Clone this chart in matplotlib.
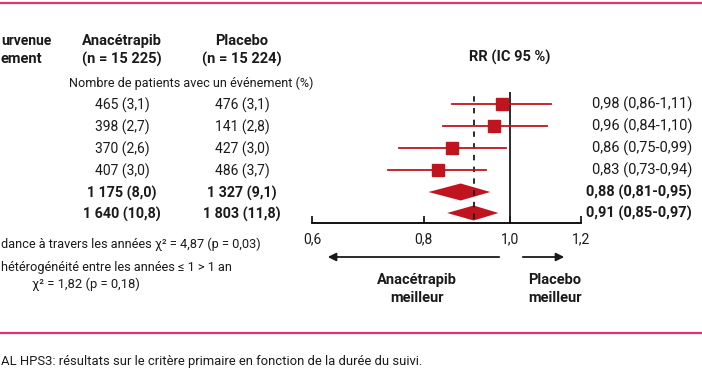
import numpy as np
import matplotlib.pyplot as plt
from matplotlib.patches import Polygon

plt.rcParams['font.family'] = ['Roboto', 'DejaVu Sans']

# data
anacetrapib = ['465 (3,1)', '398 (2,7)', '370 (2,6)', '407 (3,0)', '1 175 (8,0)', '1 640 (10,8)']
placebo = ['476 (3,1)', '141 (2,8)', '427 (3,0)', '486 (3,7)', '1 327 (9,1)', '1 803 (11,8)']
rr = [0.98, 0.96, 0.86, 0.83, 0.88, 0.91]
ci_low = [0.86, 0.84, 0.75, 0.73, 0.81, 0.85]
ci_high = [1.11, 1.10, 0.99, 0.94, 0.95, 0.97]
is_total = [False, False, False, False, True, True]
overall_rr = 0.91
x_ticks = [0.6, 0.8, 1.0, 1.2]

RED = '#c0141f'
PINK = '#e5326e'
TXT = '#1a1a1a'

W, H = 702, 370
fig = plt.figure(figsize=(W / 100, H / 100), dpi=100)

# text layer in pixel coordinates
bg = fig.add_axes([0, 0, 1, 1])
bg.set_xlim(0, W)
bg.set_ylim(H, 0)
bg.axis('off')

row_y = [104, 126, 148, 170, 192, 213]
fs = 10
fsb = 10.5

bg.axhline(3, color=PINK, lw=1.6)
bg.axhline(333, color=PINK, lw=1.6)

bg.text(1, 41, 'urvenue', ha='left', va='center', fontsize=10, weight='bold', color=TXT)
bg.text(42, 59, 'ement', ha='right', va='center', fontsize=fsb, weight='bold', color=TXT)
bg.text(122, 41, 'Anacétrapib', ha='center', va='center', fontsize=fsb, weight='bold', color=TXT)
bg.text(122, 59, '(n = 15 225)', ha='center', va='center', fontsize=fsb, weight='bold', color=TXT)
bg.text(242, 41, 'Placebo', ha='center', va='center', fontsize=fsb, weight='bold', color=TXT)
bg.text(242, 59, '(n = 15 224)', ha='center', va='center', fontsize=fsb, weight='bold', color=TXT)
bg.text(191, 83, 'Nombre de patients avec un événement (%)', ha='center', va='center', fontsize=9.1, color=TXT)
bg.text(510, 57, 'RR (IC 95 %)', ha='center', va='center', fontsize=fsb, weight='bold', color=TXT)

for i, y in enumerate(row_y):
    w = 'bold' if is_total[i] else 'normal'
    f = 10.3 if is_total[i] else fs
    bg.text(122, y + 1, anacetrapib[i], ha='center', va='center', fontsize=f, weight=w, color=TXT)
    bg.text(242, y + 1, placebo[i], ha='center', va='center', fontsize=f, weight=w, color=TXT)
    lab = f'{rr[i]:.2f} ({ci_low[i]:.2f}-{ci_high[i]:.2f})'.replace('.', ',')
    bg.text(692, y, lab, ha='right', va='center', fontsize=fsb, weight=w, color=TXT)

bg.text(1, 244, 'dance à travers les années χ² = 4,87 (p = 0,03)',
        ha='left', va='center', fontsize=9.2, color=TXT)
bg.text(1, 267, 'hétérogénéité entre les années ≤ 1 > 1 an',
        ha='left', va='center', fontsize=9.2, color=TXT)
bg.text(86, 284, 'χ² = 1,82 (p = 0,18)', ha='center', va='center', fontsize=9.4, color=TXT)

# arrows under the axis
bg.annotate('', xy=(325, 257), xytext=(502, 257),
            arrowprops=dict(arrowstyle='-|>', color=TXT, lw=1.3, mutation_scale=12))
bg.annotate('', xy=(567, 257), xytext=(520, 257),
            arrowprops=dict(arrowstyle='-|>', color=TXT, lw=1.3, mutation_scale=12))
bg.text(417, 280, 'Anacétrapib', ha='center', va='center', fontsize=fsb, weight='bold', color=TXT)
bg.text(417, 298, 'meilleur', ha='center', va='center', fontsize=fsb, weight='bold', color=TXT)
bg.text(555, 280, 'Placebo', ha='center', va='center', fontsize=fsb, weight='bold', color=TXT)
bg.text(555, 298, 'meilleur', ha='center', va='center', fontsize=fsb, weight='bold', color=TXT)

bg.text(1, 362, 'AL HPS3: résultats sur le critère primaire en fonction de la durée du suivi.',
        ha='left', va='center', fontsize=9.4, color=TXT)

# forest plot axes: x 312..581 px, y 92..223 px
x0, x1, ytop, ybot = 312, 581, 92, 223
ax = fig.add_axes([x0 / W, 1 - ybot / H, (x1 - x0) / W, (ybot - ytop) / H])
ax.patch.set_alpha(0)
ax.set_xscale('log')
ax.set_xlim(0.6, 1.2)
ax.set_ylim(ybot, ytop)
for s in ['top', 'left', 'right']:
    ax.spines[s].set_visible(False)
ax.spines['bottom'].set_linewidth(1.3)
ax.set_xticks(x_ticks)
ax.set_xticklabels([f'{t:.1f}'.replace('.', ',') for t in x_ticks])
ax.xaxis.set_minor_locator(plt.NullLocator())
ax.tick_params(axis='x', direction='in', length=5, width=1.3, pad=7, labelsize=fs, colors=TXT)
ax.set_yticks([])

ax.axvline(1.0, color=TXT, lw=1.3)
ax.axvline(overall_rr, ymin=0.03, ymax=1.0, color=TXT, lw=1.3, dashes=(3, 3.5))

for i, y in enumerate(row_y):
    if is_total[i]:
        h = 8.5 if i == 4 else 7.5
        pts = [(ci_low[i], y), (rr[i], y - h), (ci_high[i], y), (rr[i], y + h)]
        ax.add_patch(Polygon(pts, closed=True, color=RED, lw=0))
    else:
        ax.plot([ci_low[i], ci_high[i]], [y, y], color=RED, lw=1.3)
        ax.plot(rr[i], y, marker='s', ms=9, color=RED, mec=RED)

fig.savefig('out.png', dpi=100)
